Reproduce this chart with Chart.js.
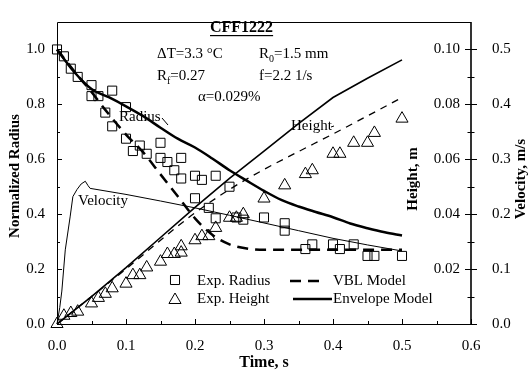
<!DOCTYPE html>
<html>
<head>
<meta charset="utf-8">
<script src="https://cdn.jsdelivr.net/npm/chart.js@4.4.1/dist/chart.umd.min.js"></script>
<style>
  html, body { margin: 0; padding: 0; background: #fff; }
  #wrap { width: 530px; height: 372px; }
</style>
</head>
<body>
<div id="wrap"><canvas id="chart" width="530" height="372"></canvas></div>
<script>
// Exp. radius (normalized) vs time, s
const expRadiusTime = [0, 0.01, 0.02, 0.03, 0.05, 0.05, 0.06, 0.07, 0.08, 0.08, 0.10, 0.10, 0.11, 0.12, 0.13, 0.15, 0.15, 0.16, 0.17, 0.18, 0.18, 0.20, 0.20, 0.21, 0.22, 0.23, 0.23, 0.25, 0.26, 0.27, 0.30, 0.33, 0.33, 0.36, 0.37, 0.40, 0.41, 0.43, 0.45, 0.46, 0.50];
const expRadius     = [1.0, 0.975, 0.93, 0.90, 0.87, 0.83, 0.83, 0.77, 0.85, 0.72, 0.79, 0.675, 0.63, 0.65, 0.62, 0.66, 0.605, 0.59, 0.56, 0.605, 0.53, 0.54, 0.458, 0.525, 0.423, 0.54, 0.385, 0.50, 0.388, 0.38, 0.388, 0.367, 0.34, 0.273, 0.29, 0.29, 0.273, 0.29, 0.248, 0.248, 0.248];

// Exp. height, m
const expHeightTime = [0, 0.01, 0.02, 0.03, 0.05, 0.06, 0.07, 0.08, 0.10, 0.11, 0.12, 0.13, 0.15, 0.16, 0.17, 0.18, 0.18, 0.20, 0.21, 0.22, 0.23, 0.25, 0.26, 0.27, 0.30, 0.33, 0.36, 0.37, 0.40, 0.41, 0.43, 0.45, 0.46, 0.50];
const expHeight     = [0, 0.003, 0.004, 0.0045, 0.0075, 0.0095, 0.011, 0.013, 0.0147, 0.0178, 0.0178, 0.0206, 0.0227, 0.0255, 0.0255, 0.0283, 0.026, 0.0305, 0.032, 0.032, 0.035, 0.0387, 0.0387, 0.040, 0.0457, 0.0505, 0.0546, 0.056, 0.062, 0.062, 0.066, 0.066, 0.0696, 0.0748];

// VBL model
const vblRadiusTime = [0, 0.03, 0.05, 0.07, 0.10, 0.125, 0.15, 0.175, 0.20, 0.225, 0.25, 0.275, 0.30, 0.35, 0.40, 0.45, 0.50];
const vblRadius     = [1.0, 0.905, 0.845, 0.78, 0.69, 0.625, 0.545, 0.465, 0.385, 0.325, 0.29, 0.275, 0.27, 0.27, 0.27, 0.27, 0.27];
const vblHeightTime = [0, 0.05, 0.10, 0.15, 0.20, 0.25, 0.30, 0.35, 0.40, 0.45, 0.50];
const vblHeight     = [0, 0.010, 0.020, 0.0305, 0.0405, 0.049, 0.0563, 0.0628, 0.0692, 0.0758, 0.0825];

// Envelope model
const envRadiusTime = [0, 0.025, 0.05, 0.075, 0.10, 0.125, 0.15, 0.175, 0.20, 0.225, 0.25, 0.275, 0.30, 0.325, 0.35, 0.375, 0.40, 0.425, 0.45, 0.475, 0.50];
const envRadius     = [1.0, 0.918, 0.856, 0.826, 0.793, 0.757, 0.715, 0.675, 0.643, 0.603, 0.560, 0.522, 0.485, 0.452, 0.428, 0.408, 0.389, 0.366, 0.349, 0.334, 0.322];
const envHeightTime = [0, 0.05, 0.10, 0.15, 0.20, 0.25, 0.30, 0.35, 0.40, 0.45, 0.50];
const envHeight     = [0, 0.010, 0.0205, 0.0315, 0.0425, 0.053, 0.063, 0.073, 0.0825, 0.0895, 0.0962];

// Velocity, m/s
const velocityTime = [0, 0.004, 0.007, 0.012, 0.019, 0.023, 0.029, 0.035, 0.041, 0.045, 0.048, 0.10, 0.15, 0.20, 0.25, 0.30, 0.35, 0.40, 0.45, 0.50];
const velocity     = [0, 0.03, 0.06, 0.135, 0.195, 0.232, 0.245, 0.255, 0.26, 0.252, 0.247, 0.236, 0.224, 0.2115, 0.198, 0.184, 0.17, 0.156, 0.144, 0.133];

// Tick labels
const timeTicks = [0, 0.1, 0.2, 0.3, 0.4, 0.5, 0.6];
const radiusTicks = [0, 0.2, 0.4, 0.6, 0.8, 1.0];
const heightTicks = [0.02, 0.04, 0.06, 0.08, 0.10];
const velocityTicks = [0, 0.1, 0.2, 0.3, 0.4, 0.5];

const FONT = "'Liberation Serif', 'Times New Roman', serif";
const zip = (xs, ys) => xs.map((x, i) => ({ x: x, y: ys[i] }));

const tickFont = { family: FONT, size: 15 };
const titleFont = { family: FONT, size: 16, weight: 'bold' };

function setTicks(list) {
    return s => { s.ticks = list.map(v => ({ value: v })); };
}

// Frame, inward ticks, annotations and legend
const decor = {
    id: 'decor',
    afterDraw(chart) {
        const { ctx, chartArea: a, scales } = chart;
        const xs = scales.x, ys = scales.y, hs = scales.yH;
        ctx.save();
        ctx.strokeStyle = '#000';
        ctx.fillStyle = '#000';
        ctx.lineWidth = 1;

        // frame
        ctx.beginPath();
        ctx.moveTo(a.right, a.top + 0.5);
        ctx.lineTo(a.left + 0.5, a.top + 0.5);
        ctx.lineTo(a.left + 0.5, a.bottom + 0.5);
        ctx.lineTo(a.right, a.bottom + 0.5);
        ctx.stroke();
        ctx.lineWidth = 1.6;
        ctx.beginPath();
        ctx.moveTo(a.right, a.top);
        ctx.lineTo(a.right, a.bottom + 1);
        ctx.stroke();

        ctx.lineWidth = 1;
        ctx.beginPath();
        // bottom ticks (inward)
        for (let i = 0; i <= 12; i++) {
            const px = Math.round(xs.getPixelForValue(i * 0.05)) + 0.5;
            const len = i % 2 === 0 ? 5 : 3;
            ctx.moveTo(px, a.bottom);
            ctx.lineTo(px, a.bottom - len);
        }
        // left ticks (inward)
        for (let i = 0; i <= 10; i++) {
            const py = Math.round(ys.getPixelForValue(i * 0.1)) + 0.5;
            const len = i % 2 === 0 ? 5 : 3;
            ctx.moveTo(a.left, py);
            ctx.lineTo(a.left + len, py);
        }
        // right ticks (both sides)
        for (let i = 0; i <= 10; i++) {
            const py = Math.round(hs.getPixelForValue(i * 0.01)) + 0.5;
            const len = i % 2 === 0 ? 6 : 3.5;
            ctx.moveTo(a.right - len, py);
            ctx.lineTo(a.right + len, py);
        }
        ctx.stroke();

        // vertical axis titles
        ctx.font = `bold 15px ${FONT}`;
        ctx.textAlign = 'center';
        ctx.textBaseline = 'middle';
        [['Normalized Radius', 15, 176], ['Height, m', 413, 179], ['Velocity, m/s', 521, 179]].forEach(([t, x, y]) => {
            ctx.save();
            ctx.translate(x, y);
            ctx.rotate(-Math.PI / 2);
            ctx.fillText(t, 0, 0);
            ctx.restore();
        });

        // case info
        ctx.font = `bold 16px ${FONT}`;
        ctx.textAlign = 'left';
        ctx.fillText('CFF1222', 210, 28);
        const w = ctx.measureText('CFF1222').width;
        ctx.fillRect(210, 35, w, 1.2);

        ctx.font = `15px ${FONT}`;
        ctx.fillText('\u0394T=3.3 \u00B0C', 157, 54);
        ctx.fillText('\u03B1=0.029%', 198, 97);
        ctx.fillText('f=2.2 1/s', 259, 76);
        const sub = (base, s, rest, x, y) => {
            ctx.font = `15px ${FONT}`;
            ctx.fillText(base, x, y);
            x += ctx.measureText(base).width;
            ctx.font = `10px ${FONT}`;
            ctx.fillText(s, x, y + 5);
            x += ctx.measureText(s).width;
            ctx.font = `15px ${FONT}`;
            ctx.fillText(rest, x, y);
        };
        sub('R', '0', '=1.5 mm', 259, 54);
        sub('R', 'f', '=0.27', 157, 76);

        // curve labels
        ctx.font = `15px ${FONT}`;
        ctx.fillText('Radius', 119, 117);
        ctx.fillText('Height', 291, 126);
        ctx.fillText('Velocity', 78, 201);
        ctx.beginPath();
        ctx.moveTo(162, 118); ctx.lineTo(168, 125);
        ctx.moveTo(331, 127); ctx.lineTo(334, 126);
        ctx.stroke();

        // legend
        const ds = chart.data.datasets;
        const marker = (d, x, y) => {
            ctx.save();
            ctx.strokeStyle = '#000';
            ctx.fillStyle = 'rgba(0,0,0,0)';
            ctx.lineWidth = d.borderWidth;
            Chart.helpers.drawPoint(ctx, { pointStyle: d.pointStyle, radius: d.pointRadius, rotation: 0, borderWidth: d.borderWidth }, x, y);
            ctx.restore();
        };
        const line = (d, x0, x1, y) => {
            ctx.save();
            ctx.lineWidth = d.borderWidth;
            ctx.setLineDash(d.borderDash || []);
            ctx.beginPath();
            ctx.moveTo(x0, y); ctx.lineTo(x1, y);
            ctx.stroke();
            ctx.restore();
        };
        marker(ds[0], 175, 280);
        marker(ds[1], 175, 300);
        line(ds[2], 290, 324, 281);
        line(ds[4], 293, 332, 299);
        ctx.font = `15px ${FONT}`;
        ctx.fillStyle = '#000';
        ctx.fillText('Exp. Radius', 197, 281);
        ctx.fillText('Exp. Height', 197, 299);
        ctx.fillText('VBL Model', 333, 281);
        ctx.fillText('Envelope Model', 333, 299);
        ctx.restore();
    }
};

new Chart(document.getElementById('chart'), {
    type: 'scatter',
    data: {
        datasets: [
            { label: 'Exp. Radius', data: zip(expRadiusTime, expRadius), yAxisID: 'y',
              pointStyle: 'rect', pointRadius: 6.4, borderWidth: 1, borderColor: '#000', backgroundColor: 'rgba(0,0,0,0)', showLine: false, clip: false },
            { label: 'Exp. Height', data: zip(expHeightTime, expHeight), yAxisID: 'yH',
              pointStyle: 'triangle', pointRadius: 7, borderWidth: 1, borderColor: '#000', backgroundColor: 'rgba(0,0,0,0)', showLine: false, clip: false },
            { label: 'VBL Model', data: zip(vblRadiusTime, vblRadius), yAxisID: 'y', showLine: true,
              pointRadius: 0, borderWidth: 2.5, borderDash: [11, 7], borderColor: '#000', cubicInterpolationMode: 'monotone', clip: false },
            { label: 'VBL Height', data: zip(vblHeightTime, vblHeight), yAxisID: 'yH', showLine: true,
              pointRadius: 0, borderWidth: 1.3, borderDash: [7, 6], borderColor: '#000', cubicInterpolationMode: 'monotone', clip: false },
            { label: 'Envelope Model', data: zip(envRadiusTime, envRadius), yAxisID: 'y', showLine: true,
              pointRadius: 0, borderWidth: 2.5, borderColor: '#000', cubicInterpolationMode: 'monotone', clip: false },
            { label: 'Envelope Height', data: zip(envHeightTime, envHeight), yAxisID: 'yH', showLine: true,
              pointRadius: 0, borderWidth: 1.6, borderColor: '#000', clip: false },
            { label: 'Velocity', data: zip(velocityTime, velocity), yAxisID: 'yV', showLine: true,
              pointRadius: 0, borderWidth: 1, borderColor: '#000', clip: false }
        ]
    },
    options: {
        responsive: false,
        animation: false,
        devicePixelRatio: 1,
        layout: { padding: { top: 9, left: 0, right: 0, bottom: 0 } },
        plugins: { legend: { display: false }, tooltip: { enabled: false } },
        scales: {
            x: {
                type: 'linear', position: 'bottom', min: 0, max: 0.6,
                grid: { display: false }, border: { display: false },
                afterBuildTicks: setTicks(timeTicks),
                afterFit: s => { s.height = 48; },
                ticks: { font: tickFont, color: '#000', padding: 5, maxRotation: 0, autoSkip: false, callback: v => v.toFixed(1) },
                title: { display: true, text: 'Time, s', font: titleFont, color: '#000', padding: { top: 0, bottom: 0 } }
            },
            y: {
                type: 'linear', position: 'left', min: 0, max: 1.1,
                grid: { display: false }, border: { display: false },
                afterBuildTicks: setTicks(radiusTicks),
                afterFit: s => { s.width = 57; },
                ticks: { font: tickFont, color: '#000', padding: 4, autoSkip: false, callback: v => v.toFixed(1) }
            },
            yH: {
                type: 'linear', position: 'right', min: 0, max: 0.11,
                grid: { display: false }, border: { display: false },
                afterBuildTicks: setTicks(heightTicks),
                afterFit: s => { s.width = 0; },
                ticks: { font: tickFont, color: '#000', mirror: true, padding: -11, autoSkip: false, callback: v => v.toFixed(2) }
            },
            yV: {
                type: 'linear', position: 'right', min: 0, max: 0.55,
                grid: { display: false }, border: { display: false },
                afterBuildTicks: setTicks(velocityTicks),
                afterFit: s => { s.width = 59; },
                ticks: { font: tickFont, color: '#000', padding: 13, autoSkip: false, callback: v => v.toFixed(1) }
            }
        }
    },
    plugins: [decor]
});
</script>
</body>
</html>
